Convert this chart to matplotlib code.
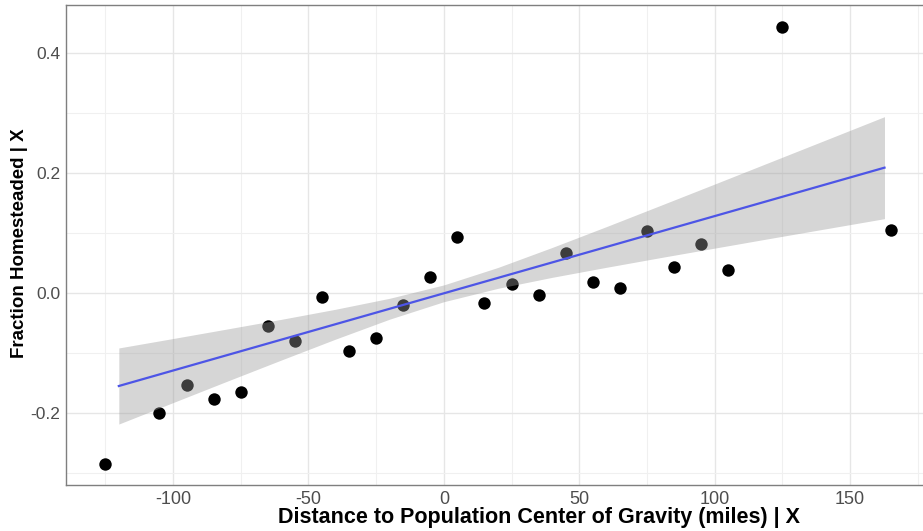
import matplotlib
matplotlib.use("Agg")
import matplotlib.pyplot as plt
from matplotlib import font_manager
from matplotlib.ticker import MultipleLocator

# Binned means: distance to population centre of gravity vs. fraction homesteaded
distance = [-125, -105, -95, -85, -75, -65, -55, -45, -35, -25, -15, -5, 5,
            15, 25, 35, 45, 55, 65, 75, 85, 95, 105, 125, 165]
homesteaded = [-0.2845, -0.199, -0.153, -0.177, -0.1645, -0.0545, -0.0795,
               -0.0067, -0.097, -0.0745, -0.020, 0.0277, 0.0938, -0.0167,
               0.0155, -0.0028, 0.0677, 0.0183, 0.0083, 0.1038, 0.0438,
               0.0827, 0.0388, 0.4443, 0.106]

# Linear fit and its 95% confidence band
fit_x = [-120, 162.7]
fit_y = [-0.1545, 0.2094]
band_x = [-120, -100, -80, -60, -40, -20, 0, 20, 40, 60, 80, 100, 120, 140, 162.7]
band_lo = [-0.2179, -0.1822, -0.1465, -0.1112, -0.0764, -0.0431, -0.0140,
           0.0083, 0.0266, 0.0433, 0.0595, 0.0753, 0.0911, 0.1067, 0.1244]
band_hi = [-0.0911, -0.0754, -0.0595, -0.0434, -0.0266, -0.0083, 0.0140,
           0.0431, 0.0764, 0.1111, 0.1465, 0.1821, 0.2179, 0.2537, 0.2944]

x_ticks = [-100, -50, 0, 50, 100, 150]
y_ticks = [-0.2, 0.0, 0.2, 0.4]
y_ticklabels = ["-0.2", "0.0", "0.2", "0.4"]

installed = {f.name for f in font_manager.fontManager.ttflist}
narrow = ["Liberation Sans Narrow"] if "Liberation Sans Narrow" in installed else []
base_family = ["Liberation Sans", "DejaVu Sans"]
narrow_family = narrow + base_family

W, H = 923, 531
fig = plt.figure(figsize=(W / 100, H / 100), dpi=100)
left, right, top, bottom = 66, 930, 5, 485
ax = fig.add_axes([left / W, 1 - bottom / H, (right - left) / W, (bottom - top) / H])

ax.set_xlim(-139.5, 179.5)
ax.set_ylim(-0.3195, 0.4805)

ax.set_xticks(x_ticks)
ax.set_xticklabels([str(v) for v in x_ticks], family=narrow_family,
                   fontsize=13, color="#4D4D4D")
ax.set_yticks(y_ticks)
ax.set_yticklabels(y_ticklabels, family=base_family, fontsize=12.5, color="#4D4D4D")
ax.xaxis.set_minor_locator(MultipleLocator(25))
ax.yaxis.set_minor_locator(MultipleLocator(0.1))
ax.tick_params(which="both", length=0, pad=4)

ax.grid(which="major", color="#E6E6E6", linewidth=1.0, zorder=0)
ax.grid(which="minor", color="#F0F0F0", linewidth=0.8, zorder=0)
ax.set_axisbelow(True)
for side in ax.spines.values():
    side.set_color("#7F7F7F")
    side.set_linewidth(1.0)

ax.scatter(distance, homesteaded, s=80, color="black", linewidths=0, zorder=2)
ax.fill_between(band_x, band_lo, band_hi, color="#999999", alpha=0.4,
                linewidth=0, zorder=3)
ax.plot(fit_x, fit_y, color="#4D55E6", linewidth=1.6, zorder=4)

ax.set_xlabel("Distance to Population Center of Gravity (miles) | X",
              family=narrow_family, fontweight="bold", fontsize=15.5,
              color="black")
ax.xaxis.label.set_va("center")
ax.xaxis.set_label_coords((539 - left) / (right - left), -(517 - bottom) / (bottom - top))

ax.set_ylabel("Fraction Homesteaded | X", family=base_family,
              fontweight="bold", fontsize=13.5, color="black")
ax.yaxis.label.set_va("center")
ax.yaxis.set_label_coords(-(left - 20) / (right - left), (bottom - 243) / (bottom - top))

fig.savefig("out.png", dpi=100)
